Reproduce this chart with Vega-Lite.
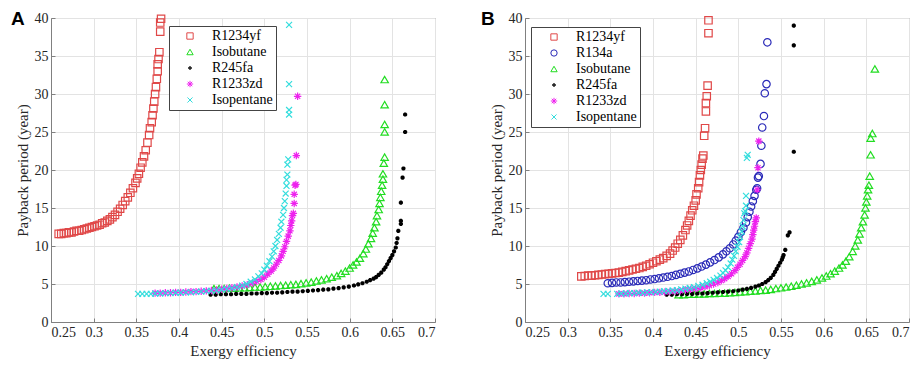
{
"$schema": "https://vega.github.io/schema/vega-lite/v6.json",
"padding": {"left": 10, "top": 9, "right": 0, "bottom": 0},
"spacing": 44,
"resolve": {"scale": {"color": "independent", "shape": "independent"}, "legend": {"color": "independent", "shape": "independent"}},
"config": {
  "font": "Liberation Serif",
  "view": {"stroke": "#808080", "strokeWidth": 1},
  "axis": {"labelFont": "Liberation Serif", "labelFontSize": 14, "labelColor": "#262626", "titleFont": "Liberation Serif", "titleFontSize": 15, "titleFontWeight": "normal", "titleColor": "#262626", "gridColor": "#e3e3e3", "domainColor": "#808080", "tickColor": "#808080", "tickSize": -4, "labelPadding": 7, "titlePadding": 4},
  "legend": {"strokeColor": "#444444", "fillColor": "white", "padding": 3, "labelFont": "Liberation Serif", "labelFontSize": 14, "labelColor": "black", "symbolSize": 40, "symbolStrokeWidth": 1, "rowPadding": 2}
},
"hconcat": [
{
  "width": 384, "height": 304,
  "layer": [
  {
  "data": {"values": [
{"s":"R1234yf","x":0.259,"y":11.6},{"s":"R1234yf","x":0.262,"y":11.6},{"s":"R1234yf","x":0.265,"y":11.7},{"s":"R1234yf","x":0.268,"y":11.7},{"s":"R1234yf","x":0.271,"y":11.8},{"s":"R1234yf","x":0.274,"y":11.8},{"s":"R1234yf","x":0.277,"y":11.9},{"s":"R1234yf","x":0.280,"y":12.0},{"s":"R1234yf","x":0.283,"y":12.0},{"s":"R1234yf","x":0.286,"y":12.1},{"s":"R1234yf","x":0.289,"y":12.2},{"s":"R1234yf","x":0.292,"y":12.3},{"s":"R1234yf","x":0.295,"y":12.4},{"s":"R1234yf","x":0.298,"y":12.5},{"s":"R1234yf","x":0.301,"y":12.6},{"s":"R1234yf","x":0.304,"y":12.7},{"s":"R1234yf","x":0.307,"y":12.8},{"s":"R1234yf","x":0.310,"y":13.0},{"s":"R1234yf","x":0.313,"y":13.1},{"s":"R1234yf","x":0.316,"y":13.3},{"s":"R1234yf","x":0.319,"y":13.5},{"s":"R1234yf","x":0.322,"y":13.8},{"s":"R1234yf","x":0.325,"y":14.1},{"s":"R1234yf","x":0.328,"y":14.5},{"s":"R1234yf","x":0.331,"y":14.9},{"s":"R1234yf","x":0.334,"y":15.4},{"s":"R1234yf","x":0.337,"y":15.9},{"s":"R1234yf","x":0.340,"y":16.4},{"s":"R1234yf","x":0.343,"y":17.0},{"s":"R1234yf","x":0.346,"y":17.6},{"s":"R1234yf","x":0.349,"y":18.3},{"s":"R1234yf","x":0.351,"y":18.9},{"s":"R1234yf","x":0.353,"y":19.5},{"s":"R1234yf","x":0.355,"y":20.3},{"s":"R1234yf","x":0.357,"y":21.0},{"s":"R1234yf","x":0.359,"y":21.8},{"s":"R1234yf","x":0.361,"y":22.6},{"s":"R1234yf","x":0.363,"y":23.6},{"s":"R1234yf","x":0.365,"y":24.6},{"s":"R1234yf","x":0.366,"y":25.5},{"s":"R1234yf","x":0.368,"y":26.3},{"s":"R1234yf","x":0.369,"y":27.2},{"s":"R1234yf","x":0.370,"y":28.1},{"s":"R1234yf","x":0.371,"y":29.0},{"s":"R1234yf","x":0.372,"y":30.0},{"s":"R1234yf","x":0.373,"y":30.9},{"s":"R1234yf","x":0.374,"y":32.0},{"s":"R1234yf","x":0.375,"y":33.0},{"s":"R1234yf","x":0.375,"y":33.9},{"s":"R1234yf","x":0.376,"y":34.6},{"s":"R1234yf","x":0.377,"y":35.5},{"s":"R1234yf","x":0.378,"y":38.2},{"s":"R1234yf","x":0.378,"y":39.4},{"s":"R1234yf","x":0.379,"y":39.9},
{"s":"Isobutane","x":0.441,"y":4.4},{"s":"Isobutane","x":0.447,"y":4.4},{"s":"Isobutane","x":0.453,"y":4.4},{"s":"Isobutane","x":0.459,"y":4.45},{"s":"Isobutane","x":0.465,"y":4.45},{"s":"Isobutane","x":0.471,"y":4.5},{"s":"Isobutane","x":0.477,"y":4.5},{"s":"Isobutane","x":0.483,"y":4.55},{"s":"Isobutane","x":0.489,"y":4.6},{"s":"Isobutane","x":0.495,"y":4.6},{"s":"Isobutane","x":0.501,"y":4.65},{"s":"Isobutane","x":0.507,"y":4.7},{"s":"Isobutane","x":0.513,"y":4.75},{"s":"Isobutane","x":0.519,"y":4.8},{"s":"Isobutane","x":0.525,"y":4.85},{"s":"Isobutane","x":0.531,"y":4.9},{"s":"Isobutane","x":0.537,"y":4.95},{"s":"Isobutane","x":0.543,"y":5.05},{"s":"Isobutane","x":0.549,"y":5.15},{"s":"Isobutane","x":0.555,"y":5.25},{"s":"Isobutane","x":0.561,"y":5.4},{"s":"Isobutane","x":0.567,"y":5.55},{"s":"Isobutane","x":0.573,"y":5.7},{"s":"Isobutane","x":0.579,"y":5.9},{"s":"Isobutane","x":0.585,"y":6.1},{"s":"Isobutane","x":0.590,"y":6.4},{"s":"Isobutane","x":0.595,"y":6.7},{"s":"Isobutane","x":0.600,"y":7.1},{"s":"Isobutane","x":0.604,"y":7.5},{"s":"Isobutane","x":0.608,"y":7.9},{"s":"Isobutane","x":0.612,"y":8.4},{"s":"Isobutane","x":0.616,"y":9.0},{"s":"Isobutane","x":0.619,"y":9.6},{"s":"Isobutane","x":0.622,"y":10.3},{"s":"Isobutane","x":0.625,"y":11.0},{"s":"Isobutane","x":0.627,"y":11.7},{"s":"Isobutane","x":0.629,"y":12.4},{"s":"Isobutane","x":0.631,"y":13.2},{"s":"Isobutane","x":0.632,"y":14.0},{"s":"Isobutane","x":0.634,"y":14.8},{"s":"Isobutane","x":0.635,"y":15.6},{"s":"Isobutane","x":0.636,"y":16.4},{"s":"Isobutane","x":0.637,"y":17.2},{"s":"Isobutane","x":0.638,"y":18.0},{"s":"Isobutane","x":0.639,"y":18.8},{"s":"Isobutane","x":0.639,"y":19.5},{"s":"Isobutane","x":0.640,"y":20.9},{"s":"Isobutane","x":0.641,"y":21.7},{"s":"Isobutane","x":0.641,"y":25.0},{"s":"Isobutane","x":0.641,"y":26.0},{"s":"Isobutane","x":0.641,"y":28.6},{"s":"Isobutane","x":0.641,"y":31.9},
{"s":"R245fa","x":0.437,"y":3.6},{"s":"R245fa","x":0.443,"y":3.6},{"s":"R245fa","x":0.449,"y":3.65},{"s":"R245fa","x":0.455,"y":3.65},{"s":"R245fa","x":0.461,"y":3.65},{"s":"R245fa","x":0.467,"y":3.7},{"s":"R245fa","x":0.473,"y":3.7},{"s":"R245fa","x":0.479,"y":3.7},{"s":"R245fa","x":0.485,"y":3.75},{"s":"R245fa","x":0.491,"y":3.75},{"s":"R245fa","x":0.497,"y":3.8},{"s":"R245fa","x":0.503,"y":3.8},{"s":"R245fa","x":0.509,"y":3.85},{"s":"R245fa","x":0.515,"y":3.85},{"s":"R245fa","x":0.521,"y":3.9},{"s":"R245fa","x":0.527,"y":3.95},{"s":"R245fa","x":0.533,"y":4.0},{"s":"R245fa","x":0.539,"y":4.0},{"s":"R245fa","x":0.545,"y":4.05},{"s":"R245fa","x":0.551,"y":4.1},{"s":"R245fa","x":0.557,"y":4.15},{"s":"R245fa","x":0.563,"y":4.2},{"s":"R245fa","x":0.569,"y":4.25},{"s":"R245fa","x":0.575,"y":4.3},{"s":"R245fa","x":0.581,"y":4.4},{"s":"R245fa","x":0.587,"y":4.45},{"s":"R245fa","x":0.593,"y":4.55},{"s":"R245fa","x":0.599,"y":4.65},{"s":"R245fa","x":0.605,"y":4.8},{"s":"R245fa","x":0.610,"y":4.95},{"s":"R245fa","x":0.615,"y":5.1},{"s":"R245fa","x":0.620,"y":5.3},{"s":"R245fa","x":0.624,"y":5.5},{"s":"R245fa","x":0.628,"y":5.7},{"s":"R245fa","x":0.631,"y":5.9},{"s":"R245fa","x":0.634,"y":6.2},{"s":"R245fa","x":0.637,"y":6.5},{"s":"R245fa","x":0.640,"y":6.9},{"s":"R245fa","x":0.642,"y":7.2},{"s":"R245fa","x":0.644,"y":7.6},{"s":"R245fa","x":0.646,"y":8.0},{"s":"R245fa","x":0.648,"y":8.4},{"s":"R245fa","x":0.650,"y":8.8},{"s":"R245fa","x":0.652,"y":9.3},{"s":"R245fa","x":0.654,"y":9.8},{"s":"R245fa","x":0.655,"y":10.4},{"s":"R245fa","x":0.656,"y":11.0},{"s":"R245fa","x":0.657,"y":12.0},{"s":"R245fa","x":0.660,"y":12.9},{"s":"R245fa","x":0.660,"y":13.3},{"s":"R245fa","x":0.660,"y":15.7},{"s":"R245fa","x":0.662,"y":19.0},{"s":"R245fa","x":0.663,"y":20.2},{"s":"R245fa","x":0.665,"y":25.0},{"s":"R245fa","x":0.665,"y":27.3},
{"s":"R1233zd","x":0.372,"y":3.8},{"s":"R1233zd","x":0.378,"y":3.8},{"s":"R1233zd","x":0.384,"y":3.85},{"s":"R1233zd","x":0.390,"y":3.85},{"s":"R1233zd","x":0.396,"y":3.9},{"s":"R1233zd","x":0.402,"y":3.9},{"s":"R1233zd","x":0.408,"y":3.95},{"s":"R1233zd","x":0.414,"y":4.0},{"s":"R1233zd","x":0.420,"y":4.0},{"s":"R1233zd","x":0.426,"y":4.05},{"s":"R1233zd","x":0.432,"y":4.1},{"s":"R1233zd","x":0.438,"y":4.15},{"s":"R1233zd","x":0.444,"y":4.2},{"s":"R1233zd","x":0.450,"y":4.3},{"s":"R1233zd","x":0.456,"y":4.4},{"s":"R1233zd","x":0.462,"y":4.5},{"s":"R1233zd","x":0.468,"y":4.6},{"s":"R1233zd","x":0.474,"y":4.75},{"s":"R1233zd","x":0.480,"y":4.9},{"s":"R1233zd","x":0.486,"y":5.1},{"s":"R1233zd","x":0.491,"y":5.35},{"s":"R1233zd","x":0.496,"y":5.6},{"s":"R1233zd","x":0.500,"y":5.9},{"s":"R1233zd","x":0.504,"y":6.3},{"s":"R1233zd","x":0.508,"y":6.7},{"s":"R1233zd","x":0.511,"y":7.1},{"s":"R1233zd","x":0.514,"y":7.6},{"s":"R1233zd","x":0.517,"y":8.1},{"s":"R1233zd","x":0.520,"y":8.7},{"s":"R1233zd","x":0.522,"y":9.3},{"s":"R1233zd","x":0.524,"y":9.9},{"s":"R1233zd","x":0.526,"y":10.6},{"s":"R1233zd","x":0.528,"y":11.3},{"s":"R1233zd","x":0.530,"y":12.0},{"s":"R1233zd","x":0.531,"y":12.7},{"s":"R1233zd","x":0.532,"y":13.3},{"s":"R1233zd","x":0.533,"y":14.0},{"s":"R1233zd","x":0.534,"y":14.3},{"s":"R1233zd","x":0.535,"y":15.6},{"s":"R1233zd","x":0.535,"y":16.8},{"s":"R1233zd","x":0.536,"y":18.0},{"s":"R1233zd","x":0.537,"y":18.1},{"s":"R1233zd","x":0.5375,"y":21.9},{"s":"R1233zd","x":0.539,"y":29.7},
{"s":"Isopentane","x":0.352,"y":3.7},{"s":"Isopentane","x":0.357,"y":3.7},{"s":"Isopentane","x":0.362,"y":3.7},{"s":"Isopentane","x":0.367,"y":3.7},{"s":"Isopentane","x":0.372,"y":3.75},{"s":"Isopentane","x":0.378,"y":3.75},{"s":"Isopentane","x":0.384,"y":3.8},{"s":"Isopentane","x":0.390,"y":3.8},{"s":"Isopentane","x":0.396,"y":3.85},{"s":"Isopentane","x":0.402,"y":3.85},{"s":"Isopentane","x":0.408,"y":3.9},{"s":"Isopentane","x":0.414,"y":3.9},{"s":"Isopentane","x":0.420,"y":3.95},{"s":"Isopentane","x":0.426,"y":4.0},{"s":"Isopentane","x":0.432,"y":4.05},{"s":"Isopentane","x":0.438,"y":4.1},{"s":"Isopentane","x":0.444,"y":4.15},{"s":"Isopentane","x":0.450,"y":4.25},{"s":"Isopentane","x":0.456,"y":4.35},{"s":"Isopentane","x":0.462,"y":4.45},{"s":"Isopentane","x":0.468,"y":4.6},{"s":"Isopentane","x":0.474,"y":4.8},{"s":"Isopentane","x":0.479,"y":5.0},{"s":"Isopentane","x":0.484,"y":5.3},{"s":"Isopentane","x":0.489,"y":5.6},{"s":"Isopentane","x":0.493,"y":6.0},{"s":"Isopentane","x":0.497,"y":6.4},{"s":"Isopentane","x":0.500,"y":6.9},{"s":"Isopentane","x":0.503,"y":7.4},{"s":"Isopentane","x":0.506,"y":8.0},{"s":"Isopentane","x":0.509,"y":8.6},{"s":"Isopentane","x":0.511,"y":9.3},{"s":"Isopentane","x":0.513,"y":10.0},{"s":"Isopentane","x":0.515,"y":10.8},{"s":"Isopentane","x":0.517,"y":11.6},{"s":"Isopentane","x":0.519,"y":12.4},{"s":"Isopentane","x":0.520,"y":13.2},{"s":"Isopentane","x":0.522,"y":14.1},{"s":"Isopentane","x":0.523,"y":15.0},{"s":"Isopentane","x":0.524,"y":15.9},{"s":"Isopentane","x":0.525,"y":16.9},{"s":"Isopentane","x":0.526,"y":17.9},{"s":"Isopentane","x":0.526,"y":18.7},{"s":"Isopentane","x":0.527,"y":19.4},{"s":"Isopentane","x":0.527,"y":20.7},{"s":"Isopentane","x":0.528,"y":21.4},{"s":"Isopentane","x":0.529,"y":27.3},{"s":"Isopentane","x":0.529,"y":27.9},{"s":"Isopentane","x":0.529,"y":31.3},{"s":"Isopentane","x":0.529,"y":39.1}
  ]},
  "mark": {"type": "point", "filled": false, "size": 55, "strokeWidth": 1.2, "opacity": 1},
  "encoding": {
    "x": {"field": "x", "type": "quantitative", "title": "Exergy efficiency", "scale": {"domain": [0.25, 0.7], "nice": false, "zero": false}, "axis": {"values": [0.25,0.3,0.35,0.4,0.45,0.5,0.55,0.6,0.65,0.7], "format": ".2~f"}},
    "y": {"field": "y", "type": "quantitative", "title": "Payback period (year)", "scale": {"domain": [0, 40], "nice": false}, "axis": {"values": [0,5,10,15,20,25,30,35,40], "format": "d"}},
    "color": {"field": "s", "type": "nominal", "scale": {"domain": ["R1234yf","Isobutane","R245fa","R1233zd","Isopentane"], "range": ["#e04848","#22dd22","#000000","#ee22ee","#33dddd"]}, "legend": {"title": null, "orient": "none", "legendX": 118, "legendY": 8, "symbolOffset": 11, "labelOffset": 15}},
    "shape": {"field": "s", "type": "nominal", "scale": {"domain": ["R1234yf","Isobutane","R245fa","R1233zd","Isopentane"], "range": ["square","triangle-up","M-0.4,-0.17L-0.17,-0.4L0.17,-0.4L0.4,-0.17L0.4,0.17L0.17,0.4L-0.17,0.4L-0.4,0.17Z M-0.4,0L0.4,0M0,-0.4L0,0.4","M-1,0L1,0M0,-1L0,1M-0.7,-0.7L0.7,0.7M-0.7,0.7L0.7,-0.7","M-0.8,-0.8L0.8,0.8M-0.8,0.8L0.8,-0.8"]}, "legend": {"title": null, "orient": "none", "legendX": 118, "legendY": 8, "symbolOffset": 11, "labelOffset": 15}}
  }
  },
  {
    "data": {"values": [{"panel": "A"}]},
    "mark": {"type": "text", "font": "Liberation Sans", "fontSize": 19, "fontWeight": "bold", "align": "left", "baseline": "alphabetic", "color": "black"},
    "encoding": {
      "x": {"datum": 0.2031, "type": "quantitative", "title": "Exergy efficiency", "scale": {"domain": [0.25, 0.7], "nice": false, "zero": false}, "axis": {"values": [0.25,0.3,0.35,0.4,0.45,0.5,0.55,0.6,0.65,0.7], "format": ".2~f"}},
      "y": {"datum": 39.08, "type": "quantitative", "title": "Payback period (year)", "scale": {"domain": [0, 40], "nice": false}, "axis": {"values": [0,5,10,15,20,25,30,35,40], "format": "d"}},
      "text": {"field": "panel"}
    }
  }
  ]
},
{
  "width": 384, "height": 304,
  "layer": [
  {
  "data": {"values": [
{"s":"R1234yf","x":0.316,"y":6.0},{"s":"R1234yf","x":0.320,"y":6.05},{"s":"R1234yf","x":0.324,"y":6.1},{"s":"R1234yf","x":0.328,"y":6.1},{"s":"R1234yf","x":0.332,"y":6.15},{"s":"R1234yf","x":0.336,"y":6.2},{"s":"R1234yf","x":0.340,"y":6.25},{"s":"R1234yf","x":0.344,"y":6.3},{"s":"R1234yf","x":0.348,"y":6.35},{"s":"R1234yf","x":0.352,"y":6.4},{"s":"R1234yf","x":0.356,"y":6.45},{"s":"R1234yf","x":0.360,"y":6.5},{"s":"R1234yf","x":0.364,"y":6.6},{"s":"R1234yf","x":0.368,"y":6.7},{"s":"R1234yf","x":0.372,"y":6.8},{"s":"R1234yf","x":0.376,"y":6.9},{"s":"R1234yf","x":0.380,"y":7.0},{"s":"R1234yf","x":0.384,"y":7.1},{"s":"R1234yf","x":0.388,"y":7.25},{"s":"R1234yf","x":0.392,"y":7.4},{"s":"R1234yf","x":0.396,"y":7.6},{"s":"R1234yf","x":0.400,"y":7.8},{"s":"R1234yf","x":0.404,"y":8.0},{"s":"R1234yf","x":0.408,"y":8.2},{"s":"R1234yf","x":0.412,"y":8.4},{"s":"R1234yf","x":0.416,"y":8.7},{"s":"R1234yf","x":0.420,"y":9.0},{"s":"R1234yf","x":0.423,"y":9.4},{"s":"R1234yf","x":0.426,"y":9.8},{"s":"R1234yf","x":0.429,"y":10.3},{"s":"R1234yf","x":0.432,"y":10.8},{"s":"R1234yf","x":0.435,"y":11.4},{"s":"R1234yf","x":0.438,"y":12.1},{"s":"R1234yf","x":0.440,"y":12.7},{"s":"R1234yf","x":0.442,"y":13.3},{"s":"R1234yf","x":0.444,"y":14.0},{"s":"R1234yf","x":0.446,"y":14.7},{"s":"R1234yf","x":0.448,"y":15.3},{"s":"R1234yf","x":0.450,"y":16.0},{"s":"R1234yf","x":0.451,"y":16.8},{"s":"R1234yf","x":0.453,"y":17.6},{"s":"R1234yf","x":0.454,"y":18.4},{"s":"R1234yf","x":0.455,"y":19.3},{"s":"R1234yf","x":0.456,"y":20.0},{"s":"R1234yf","x":0.457,"y":20.7},{"s":"R1234yf","x":0.458,"y":21.5},{"s":"R1234yf","x":0.459,"y":21.9},{"s":"R1234yf","x":0.460,"y":24.5},{"s":"R1234yf","x":0.461,"y":25.5},{"s":"R1234yf","x":0.462,"y":27.7},{"s":"R1234yf","x":0.462,"y":28.8},{"s":"R1234yf","x":0.463,"y":29.7},{"s":"R1234yf","x":0.464,"y":31.1},{"s":"R1234yf","x":0.465,"y":38.0},{"s":"R1234yf","x":0.465,"y":39.7},
{"s":"R134a","x":0.347,"y":5.1},{"s":"R134a","x":0.352,"y":5.15},{"s":"R134a","x":0.357,"y":5.2},{"s":"R134a","x":0.362,"y":5.2},{"s":"R134a","x":0.367,"y":5.25},{"s":"R134a","x":0.372,"y":5.3},{"s":"R134a","x":0.377,"y":5.35},{"s":"R134a","x":0.382,"y":5.4},{"s":"R134a","x":0.387,"y":5.45},{"s":"R134a","x":0.392,"y":5.5},{"s":"R134a","x":0.397,"y":5.6},{"s":"R134a","x":0.402,"y":5.65},{"s":"R134a","x":0.407,"y":5.75},{"s":"R134a","x":0.412,"y":5.85},{"s":"R134a","x":0.417,"y":5.95},{"s":"R134a","x":0.422,"y":6.05},{"s":"R134a","x":0.427,"y":6.2},{"s":"R134a","x":0.432,"y":6.35},{"s":"R134a","x":0.437,"y":6.5},{"s":"R134a","x":0.442,"y":6.65},{"s":"R134a","x":0.447,"y":6.85},{"s":"R134a","x":0.452,"y":7.05},{"s":"R134a","x":0.457,"y":7.3},{"s":"R134a","x":0.462,"y":7.55},{"s":"R134a","x":0.467,"y":7.85},{"s":"R134a","x":0.472,"y":8.15},{"s":"R134a","x":0.477,"y":8.5},{"s":"R134a","x":0.482,"y":8.9},{"s":"R134a","x":0.486,"y":9.3},{"s":"R134a","x":0.490,"y":9.7},{"s":"R134a","x":0.494,"y":10.2},{"s":"R134a","x":0.497,"y":10.7},{"s":"R134a","x":0.500,"y":11.2},{"s":"R134a","x":0.503,"y":11.8},{"s":"R134a","x":0.506,"y":12.4},{"s":"R134a","x":0.509,"y":13.1},{"s":"R134a","x":0.511,"y":13.8},{"s":"R134a","x":0.513,"y":14.5},{"s":"R134a","x":0.515,"y":15.2},{"s":"R134a","x":0.517,"y":15.9},{"s":"R134a","x":0.519,"y":16.6},{"s":"R134a","x":0.521,"y":17.4},{"s":"R134a","x":0.522,"y":17.6},{"s":"R134a","x":0.523,"y":19.0},{"s":"R134a","x":0.524,"y":19.2},{"s":"R134a","x":0.526,"y":20.8},{"s":"R134a","x":0.527,"y":23.2},{"s":"R134a","x":0.528,"y":25.6},{"s":"R134a","x":0.530,"y":27.1},{"s":"R134a","x":0.531,"y":30.1},{"s":"R134a","x":0.533,"y":31.3},{"s":"R134a","x":0.534,"y":36.8},
{"s":"Isobutane","x":0.430,"y":3.6},{"s":"Isobutane","x":0.436,"y":3.6},{"s":"Isobutane","x":0.442,"y":3.65},{"s":"Isobutane","x":0.448,"y":3.65},{"s":"Isobutane","x":0.454,"y":3.7},{"s":"Isobutane","x":0.460,"y":3.7},{"s":"Isobutane","x":0.466,"y":3.75},{"s":"Isobutane","x":0.472,"y":3.75},{"s":"Isobutane","x":0.478,"y":3.8},{"s":"Isobutane","x":0.484,"y":3.8},{"s":"Isobutane","x":0.490,"y":3.85},{"s":"Isobutane","x":0.496,"y":3.9},{"s":"Isobutane","x":0.502,"y":3.95},{"s":"Isobutane","x":0.508,"y":4.0},{"s":"Isobutane","x":0.514,"y":4.05},{"s":"Isobutane","x":0.520,"y":4.1},{"s":"Isobutane","x":0.526,"y":4.15},{"s":"Isobutane","x":0.532,"y":4.2},{"s":"Isobutane","x":0.538,"y":4.3},{"s":"Isobutane","x":0.544,"y":4.4},{"s":"Isobutane","x":0.550,"y":4.5},{"s":"Isobutane","x":0.556,"y":4.6},{"s":"Isobutane","x":0.562,"y":4.7},{"s":"Isobutane","x":0.568,"y":4.85},{"s":"Isobutane","x":0.574,"y":5.0},{"s":"Isobutane","x":0.580,"y":5.15},{"s":"Isobutane","x":0.586,"y":5.35},{"s":"Isobutane","x":0.592,"y":5.55},{"s":"Isobutane","x":0.598,"y":5.8},{"s":"Isobutane","x":0.603,"y":6.05},{"s":"Isobutane","x":0.608,"y":6.35},{"s":"Isobutane","x":0.613,"y":6.7},{"s":"Isobutane","x":0.618,"y":7.1},{"s":"Isobutane","x":0.622,"y":7.5},{"s":"Isobutane","x":0.626,"y":8.0},{"s":"Isobutane","x":0.630,"y":8.6},{"s":"Isobutane","x":0.634,"y":9.3},{"s":"Isobutane","x":0.637,"y":10.0},{"s":"Isobutane","x":0.640,"y":10.8},{"s":"Isobutane","x":0.642,"y":11.6},{"s":"Isobutane","x":0.644,"y":12.4},{"s":"Isobutane","x":0.646,"y":13.2},{"s":"Isobutane","x":0.648,"y":14.1},{"s":"Isobutane","x":0.649,"y":15.0},{"s":"Isobutane","x":0.650,"y":15.8},{"s":"Isobutane","x":0.651,"y":16.6},{"s":"Isobutane","x":0.652,"y":17.4},{"s":"Isobutane","x":0.653,"y":18.0},{"s":"Isobutane","x":0.654,"y":19.2},{"s":"Isobutane","x":0.655,"y":22.0},{"s":"Isobutane","x":0.655,"y":24.2},{"s":"Isobutane","x":0.657,"y":24.8},{"s":"Isobutane","x":0.660,"y":33.3},
{"s":"R245fa","x":0.416,"y":3.6},{"s":"R245fa","x":0.422,"y":3.6},{"s":"R245fa","x":0.428,"y":3.65},{"s":"R245fa","x":0.434,"y":3.65},{"s":"R245fa","x":0.440,"y":3.7},{"s":"R245fa","x":0.446,"y":3.7},{"s":"R245fa","x":0.452,"y":3.75},{"s":"R245fa","x":0.458,"y":3.75},{"s":"R245fa","x":0.464,"y":3.8},{"s":"R245fa","x":0.470,"y":3.85},{"s":"R245fa","x":0.476,"y":3.9},{"s":"R245fa","x":0.482,"y":3.95},{"s":"R245fa","x":0.488,"y":4.0},{"s":"R245fa","x":0.494,"y":4.05},{"s":"R245fa","x":0.500,"y":4.15},{"s":"R245fa","x":0.505,"y":4.25},{"s":"R245fa","x":0.510,"y":4.35},{"s":"R245fa","x":0.515,"y":4.5},{"s":"R245fa","x":0.520,"y":4.65},{"s":"R245fa","x":0.524,"y":4.8},{"s":"R245fa","x":0.528,"y":5.0},{"s":"R245fa","x":0.532,"y":5.25},{"s":"R245fa","x":0.535,"y":5.5},{"s":"R245fa","x":0.538,"y":5.8},{"s":"R245fa","x":0.541,"y":6.2},{"s":"R245fa","x":0.543,"y":6.6},{"s":"R245fa","x":0.545,"y":7.0},{"s":"R245fa","x":0.547,"y":7.4},{"s":"R245fa","x":0.549,"y":7.8},{"s":"R245fa","x":0.551,"y":8.2},{"s":"R245fa","x":0.552,"y":8.5},{"s":"R245fa","x":0.553,"y":8.8},{"s":"R245fa","x":0.555,"y":9.5},{"s":"R245fa","x":0.558,"y":11.4},{"s":"R245fa","x":0.560,"y":11.8},{"s":"R245fa","x":0.565,"y":22.4},{"s":"R245fa","x":0.565,"y":36.4},{"s":"R245fa","x":0.565,"y":39.0},
{"s":"R1233zd","x":0.360,"y":3.7},{"s":"R1233zd","x":0.366,"y":3.7},{"s":"R1233zd","x":0.372,"y":3.75},{"s":"R1233zd","x":0.378,"y":3.75},{"s":"R1233zd","x":0.384,"y":3.8},{"s":"R1233zd","x":0.390,"y":3.8},{"s":"R1233zd","x":0.396,"y":3.85},{"s":"R1233zd","x":0.402,"y":3.9},{"s":"R1233zd","x":0.408,"y":3.9},{"s":"R1233zd","x":0.414,"y":3.95},{"s":"R1233zd","x":0.420,"y":4.0},{"s":"R1233zd","x":0.426,"y":4.05},{"s":"R1233zd","x":0.432,"y":4.1},{"s":"R1233zd","x":0.438,"y":4.2},{"s":"R1233zd","x":0.444,"y":4.3},{"s":"R1233zd","x":0.450,"y":4.4},{"s":"R1233zd","x":0.456,"y":4.5},{"s":"R1233zd","x":0.461,"y":4.65},{"s":"R1233zd","x":0.466,"y":4.8},{"s":"R1233zd","x":0.471,"y":5.0},{"s":"R1233zd","x":0.476,"y":5.2},{"s":"R1233zd","x":0.480,"y":5.45},{"s":"R1233zd","x":0.484,"y":5.7},{"s":"R1233zd","x":0.488,"y":6.0},{"s":"R1233zd","x":0.492,"y":6.35},{"s":"R1233zd","x":0.496,"y":6.75},{"s":"R1233zd","x":0.499,"y":7.2},{"s":"R1233zd","x":0.502,"y":7.6},{"s":"R1233zd","x":0.505,"y":8.1},{"s":"R1233zd","x":0.508,"y":8.6},{"s":"R1233zd","x":0.510,"y":9.1},{"s":"R1233zd","x":0.512,"y":9.7},{"s":"R1233zd","x":0.514,"y":10.3},{"s":"R1233zd","x":0.516,"y":10.9},{"s":"R1233zd","x":0.517,"y":11.5},{"s":"R1233zd","x":0.518,"y":12.1},{"s":"R1233zd","x":0.519,"y":12.6},{"s":"R1233zd","x":0.520,"y":13.2},{"s":"R1233zd","x":0.521,"y":13.7},{"s":"R1233zd","x":0.522,"y":17.4},{"s":"R1233zd","x":0.523,"y":20.3},{"s":"R1233zd","x":0.524,"y":23.8},
{"s":"Isopentane","x":0.342,"y":3.7},{"s":"Isopentane","x":0.347,"y":3.7},{"s":"Isopentane","x":0.358,"y":3.7},{"s":"Isopentane","x":0.363,"y":3.75},{"s":"Isopentane","x":0.368,"y":3.75},{"s":"Isopentane","x":0.373,"y":3.8},{"s":"Isopentane","x":0.378,"y":3.8},{"s":"Isopentane","x":0.383,"y":3.85},{"s":"Isopentane","x":0.388,"y":3.85},{"s":"Isopentane","x":0.393,"y":3.9},{"s":"Isopentane","x":0.398,"y":3.9},{"s":"Isopentane","x":0.403,"y":3.95},{"s":"Isopentane","x":0.408,"y":4.0},{"s":"Isopentane","x":0.413,"y":4.05},{"s":"Isopentane","x":0.418,"y":4.1},{"s":"Isopentane","x":0.423,"y":4.15},{"s":"Isopentane","x":0.428,"y":4.2},{"s":"Isopentane","x":0.433,"y":4.3},{"s":"Isopentane","x":0.438,"y":4.4},{"s":"Isopentane","x":0.443,"y":4.5},{"s":"Isopentane","x":0.448,"y":4.6},{"s":"Isopentane","x":0.453,"y":4.75},{"s":"Isopentane","x":0.458,"y":4.9},{"s":"Isopentane","x":0.463,"y":5.1},{"s":"Isopentane","x":0.467,"y":5.3},{"s":"Isopentane","x":0.471,"y":5.55},{"s":"Isopentane","x":0.475,"y":5.8},{"s":"Isopentane","x":0.479,"y":6.1},{"s":"Isopentane","x":0.482,"y":6.45},{"s":"Isopentane","x":0.485,"y":6.8},{"s":"Isopentane","x":0.488,"y":7.2},{"s":"Isopentane","x":0.491,"y":7.7},{"s":"Isopentane","x":0.493,"y":8.2},{"s":"Isopentane","x":0.495,"y":8.7},{"s":"Isopentane","x":0.497,"y":9.3},{"s":"Isopentane","x":0.499,"y":9.9},{"s":"Isopentane","x":0.501,"y":10.5},{"s":"Isopentane","x":0.502,"y":11.2},{"s":"Isopentane","x":0.504,"y":11.9},{"s":"Isopentane","x":0.505,"y":12.6},{"s":"Isopentane","x":0.506,"y":13.4},{"s":"Isopentane","x":0.507,"y":14.3},{"s":"Isopentane","x":0.508,"y":14.6},{"s":"Isopentane","x":0.509,"y":15.3},{"s":"Isopentane","x":0.509,"y":16.6},{"s":"Isopentane","x":0.510,"y":21.6},{"s":"Isopentane","x":0.511,"y":22.0}
  ]},
  "mark": {"type": "point", "filled": false, "size": 55, "strokeWidth": 1.2, "opacity": 1},
  "encoding": {
    "x": {"field": "x", "type": "quantitative", "title": "Exergy efficiency", "scale": {"domain": [0.25, 0.7], "nice": false, "zero": false}, "axis": {"values": [0.25,0.3,0.35,0.4,0.45,0.5,0.55,0.6,0.65,0.7], "format": ".2~f"}},
    "y": {"field": "y", "type": "quantitative", "title": "Payback period (year)", "scale": {"domain": [0, 40], "nice": false}, "axis": {"values": [0,5,10,15,20,25,30,35,40], "format": "d"}},
    "color": {"field": "s", "type": "nominal", "scale": {"domain": ["R1234yf","R134a","Isobutane","R245fa","R1233zd","Isopentane"], "range": ["#e04848","#2a2ab8","#22dd22","#000000","#ee22ee","#33dddd"]}, "legend": {"title": null, "orient": "none", "legendX": 6, "legendY": 9, "symbolOffset": 13, "labelOffset": 15}},
    "shape": {"field": "s", "type": "nominal", "scale": {"domain": ["R1234yf","R134a","Isobutane","R245fa","R1233zd","Isopentane"], "range": ["square","circle","triangle-up","M-0.4,-0.17L-0.17,-0.4L0.17,-0.4L0.4,-0.17L0.4,0.17L0.17,0.4L-0.17,0.4L-0.4,0.17Z M-0.4,0L0.4,0M0,-0.4L0,0.4","M-1,0L1,0M0,-1L0,1M-0.7,-0.7L0.7,0.7M-0.7,0.7L0.7,-0.7","M-0.8,-0.8L0.8,0.8M-0.8,0.8L0.8,-0.8"]}, "legend": {"title": null, "orient": "none", "legendX": 6, "legendY": 9, "symbolOffset": 13, "labelOffset": 15}}
  }
  },
  {
    "data": {"values": [{"panel": "B"}]},
    "mark": {"type": "text", "font": "Liberation Sans", "fontSize": 19, "fontWeight": "bold", "align": "left", "baseline": "alphabetic", "color": "black"},
    "encoding": {
      "x": {"datum": 0.1984, "type": "quantitative", "title": "Exergy efficiency", "scale": {"domain": [0.25, 0.7], "nice": false, "zero": false}, "axis": {"values": [0.25,0.3,0.35,0.4,0.45,0.5,0.55,0.6,0.65,0.7], "format": ".2~f"}},
      "y": {"datum": 39.08, "type": "quantitative", "title": "Payback period (year)", "scale": {"domain": [0, 40], "nice": false}, "axis": {"values": [0,5,10,15,20,25,30,35,40], "format": "d"}},
      "text": {"field": "panel"}
    }
  }
  ]
}
]
}
